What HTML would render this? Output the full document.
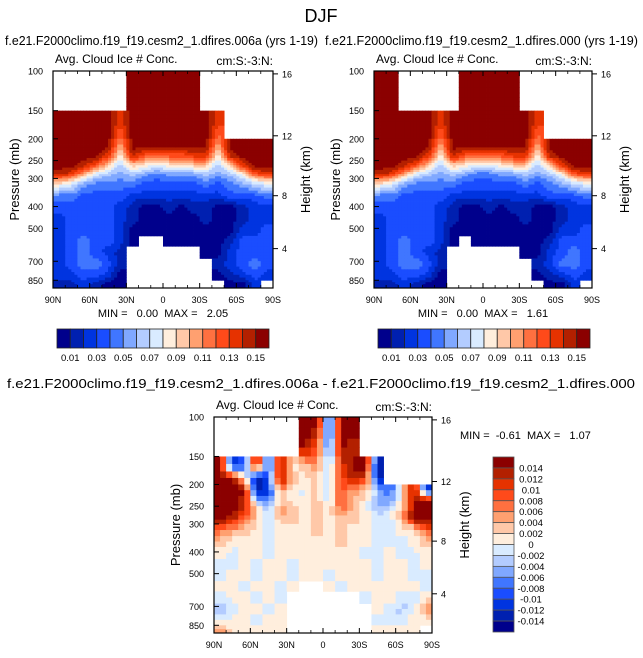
<!DOCTYPE html>
<html><head><meta charset="utf-8"><style>
html,body{margin:0;padding:0;background:#fff;}
svg{display:block;font-family:"Liberation Sans",Arial,sans-serif;}
</style></head><body>
<svg id="fig" width="643" height="658" viewBox="0 0 643 658" xmlns="http://www.w3.org/2000/svg">
<text x="321" y="22" font-size="18" text-anchor="middle">DJF</text>
<text x="5" y="45" font-size="13" textLength="313" lengthAdjust="spacingAndGlyphs">f.e21.F2000climo.f19_f19.cesm2_1.dfires.006a (yrs 1-19)</text>
<text x="325" y="45" font-size="13" textLength="313" lengthAdjust="spacingAndGlyphs">f.e21.F2000climo.f19_f19.cesm2_1.dfires.000 (yrs 1-19)</text>
<text x="7" y="388" font-size="13" textLength="628" lengthAdjust="spacingAndGlyphs">f.e21.F2000climo.f19_f19.cesm2_1.dfires.006a - f.e21.F2000climo.f19_f19.cesm2_1.dfires.000</text>
<g id="panels"></g>
</svg>
<script>
// ---- data ----
const latEdges = [90,80,70,60,50,40,30,20,10,0,-10,-20,-30,-40,-50,-60,-70,-80,-90];
const pEdges = [100,125,150,175,200,225,250,275,300,340,380,430,480,540,600,680,760,850,920];
const pTicks = [100,150,200,250,300,400,500,700,850];
const latTicks = [90,60,30,0,-30,-60,-90];
const latTickLabels = ["90N","60N","30N","0","30S","60S","90S"];
const heightTickP = [103,194,358,615];
const heightTickLabels = ["16","12","8","4"];
const seqLabels = ["0.01","0.03","0.05","0.07","0.09","0.11","0.13","0.15"];
const diffLabels = ["0.014","0.012","0.01","0.008","0.006","0.004","0.002","0","-0.002","-0.004","-0.006","-0.008","-0.01","-0.012","-0.014"];
const palette = ["#00008c","#0020b0","#0034e0","#1a4dff","#4076ff","#80a8ff","#b3ccff","#d9ebff","#ffeedd","#ffc8a8","#ffa070","#ff7040","#ff4a1a","#e63200","#b32000","#8b0000"];
// level index per cell (-1 = missing), rows = pressure bands, cols = latitude bands
const gridA = [
[-1,-1,-1,-1,-1,-1,15,15,15,15,15,15,-1,-1,-1,-1,-1,-1],
[-1,-1,-1,-1,-1,-1,15,15,15,15,15,15,-1,-1,-1,-1,-1,-1],
[15,15,15,15,15,13,15,15,15,15,15,15,15,13,-1,-1,-1,-1],
[15,15,15,15,15,12,15,15,15,15,15,15,15,12,-1,-1,-1,-1],
[15,15,15,15,15,10,15,15,15,15,15,15,15,10,15,15,15,15],
[15,15,15,15,13,8,14,12,12,12,12,13,13,8,14,15,15,15],
[15,15,14,12,9,6,9,8,7,8,8,9,9,6,9,13,15,15],
[14,13,10,7,6,5,6,5,4,5,5,5,6,5,6,8,12,13],
[8,7,5,4,4,4,4,3,3,3,3,3,4,3,4,5,6,7],
[4,4,3,3,3,3,2,2,2,2,2,2,2,2,3,3,3,4],
[3,3,3,3,3,2,1,0,0,1,0,1,1,0,0,1,2,2],
[2,3,3,3,3,2,1,0,0,0,0,0,1,0,0,1,2,2],
[2,3,3,3,3,2,0,0,0,0,0,0,0,0,0,2,2,3],
[2,3,4,3,3,2,0,-1,-1,0,0,0,0,0,1,3,3,3],
[2,3,4,3,2,1,-1,-1,-1,-1,-1,-1,0,0,2,3,3,3],
[2,3,4,4,3,1,-1,-1,-1,-1,-1,-1,-1,1,2,3,4,3],
[2,2,3,3,2,0,-1,-1,-1,-1,-1,-1,-1,0,1,2,3,2],
[1,1,2,1,0,0,-1,-1,-1,-1,-1,-1,-1,-1,0,0,2,-1]
];
const gridB = [
[15,15,-1,-1,-1,-1,-1,15,15,15,15,15,-1,-1,-1,-1,-1,-1],
[15,15,-1,-1,-1,-1,-1,15,15,15,15,15,-1,-1,-1,-1,-1,-1],
[15,15,15,15,15,13,15,15,15,15,15,15,15,13,-1,-1,-1,-1],
[15,15,15,15,15,12,15,15,15,15,15,15,15,12,-1,-1,-1,-1],
[15,15,15,15,15,10,15,15,15,15,15,15,15,10,15,15,15,15],
[15,15,15,15,13,8,14,12,11,11,12,13,13,8,14,15,15,15],
[15,15,14,12,9,6,9,8,7,7,8,9,9,6,9,13,15,15],
[14,13,10,7,6,5,6,5,4,4,5,5,6,5,6,8,12,13],
[8,7,5,4,4,4,4,3,3,3,3,3,4,3,4,5,6,7],
[4,4,3,3,3,3,2,2,2,2,2,2,2,2,3,3,3,4],
[3,3,3,3,3,2,1,0,0,1,0,1,1,0,0,1,2,2],
[2,3,3,3,3,2,1,0,0,0,0,0,1,0,0,1,2,2],
[2,3,3,3,3,2,0,0,0,0,0,0,0,0,0,2,2,3],
[2,3,4,3,3,2,0,-1,0,0,0,0,0,0,1,3,3,3],
[2,3,4,3,2,1,-1,-1,-1,-1,-1,-1,0,0,2,3,4,3],
[2,3,4,4,3,1,-1,-1,-1,-1,-1,-1,-1,1,2,4,4,3],
[2,2,3,3,2,0,-1,-1,-1,-1,-1,-1,-1,0,1,2,3,2],
[1,1,2,1,0,0,-1,-1,-1,-1,-1,-1,-1,-1,0,0,2,-1]
];
const gridDiff = [
[-1,-1,-1,-1,-1,-1,-1,15,15,1,15,15,-1,-1,-1,-1,-1,-1],
[-1,-1,-1,-1,-1,-1,-1,15,12,3,15,14,-1,-1,-1,-1,-1,-1],
[15,1,3,15,2,15,8,9,10,6,13,15,15,1,-1,-1,-1,-1],
[15,15,8,1,3,15,9,8,9,6,12,14,13,1,-1,-1,-1,-1],
[15,15,15,1,2,10,8,7,9,6,12,10,9,6,3,8,15,2],
[15,15,14,6,4,9,8,8,9,7,12,9,8,5,5,8,15,15],
[15,15,13,9,6,10,9,8,9,8,11,9,8,6,7,9,15,15],
[15,14,11,9,7,9,9,8,9,8,9,9,8,7,7,9,15,15],
[11,10,9,8,7,8,8,8,9,8,9,8,8,7,7,8,8,12],
[9,8,8,8,7,8,8,8,8,8,9,8,8,7,7,7,8,9],
[8,7,8,8,7,8,8,8,8,8,8,8,7,7,8,7,7,8],
[7,7,8,7,8,8,7,8,8,8,8,8,8,7,8,8,7,8],
[7,8,8,7,8,8,7,8,8,7,8,8,8,7,8,8,7,7],
[8,8,7,8,8,7,8,-1,-1,8,7,8,8,8,8,8,8,7],
[7,8,8,7,8,7,-1,-1,-1,-1,-1,-1,7,8,8,7,7,8],
[5,7,8,8,7,8,-1,-1,-1,-1,-1,-1,-1,8,7,6,7,10],
[7,8,8,7,8,8,-1,-1,-1,-1,-1,-1,-1,7,7,7,8,8],
[10,8,8,8,8,8,-1,-1,-1,-1,-1,-1,-1,8,8,8,8,-1]
];

const NS = "http://www.w3.org/2000/svg";
function mk(parent, tag, attrs){const e=document.createElementNS(NS,tag);for(const k in attrs)e.setAttribute(k,attrs[k]);parent.appendChild(e);return e;}

// bilinear sample of the grid (render-time smoothing), ignoring missing cells
function sample(grid, fr, fc){
  const R=grid.length, C=grid[0].length;
  const r0=Math.floor(fr), c0=Math.floor(fc);
  const tr=fr-r0, tc=fc-c0;
  let s=0, ws=0;
  for(const [dr,wr] of [[0,1-tr],[1,tr]]){
    for(const [dc,wc] of [[0,1-tc],[1,tc]]){
      const rr=Math.min(R-1,Math.max(0,r0+dr)), cc=Math.min(C-1,Math.max(0,c0+dc));
      const v=grid[rr][cc]; const wt=wr*wc;
      if(v>=0 && wt>0){s+=v*wt; ws+=wt;}
    }
  }
  return ws>0 ? s/ws : -1;
}

function drawPanel(grid, x0, y0, w, h, opts){
  const root = document.getElementById('panels');
  const g = mk(root,'g',{});
  
  
  const pTop = 100, pBot = 920;
  const xS = lat => x0 + (90 - lat) / 180 * w;
  const yS = p => y0 + Math.log(p / pTop) / Math.log(pBot / pTop) * h;
  const n = opts.sub;
  for(let r=0;r<grid.length;r++){
    for(let c=0;c<grid[r].length;c++){
      if(grid[r][c]<0) continue;
      const xa = xS(latEdges[c]), xb = xS(latEdges[c+1]);
      const ya = yS(pEdges[r]), yb = yS(pEdges[r+1]);
      const sw=(xb-xa)/n, sh=(yb-ya)/n;
      for(let i=0;i<n;i++){
        for(let j=0;j<n;j++){
          const fr=r+(i+0.5)/n-0.5, fc=c+(j+0.5)/n-0.5;
          const v=Math.round(sample(grid,fr,fc));
          if(v<0) continue;
          const rc = mk(g,'rect',{x:(xa+j*sw).toFixed(2),y:(ya+i*sh).toFixed(2),width:(sw+0.4).toFixed(2),height:(sh+0.4).toFixed(2),fill:palette[v]});
          
          
        }
      }
    }
  }
  const fr = mk(g,'rect',{x:x0,y:y0,width:w,height:h,fill:'none',stroke:'#000','stroke-width':1.2});
  
  
  pTicks.forEach(p=>{
    const y=yS(p);
    mk(g,'line',{x1:x0,x2:x0+5,y1:y,y2:y,stroke:'#000','stroke-width':1});
    const t=mk(g,'text',{x:x0-10,y:y+3.5,'font-size':9,'text-anchor':'end'});
    t.textContent=p;
    
    
  });
  heightTickP.forEach((p,i)=>{
    const y=yS(p);
    mk(g,'line',{x1:x0+w,x2:x0+w+5,y1:y,y2:y,stroke:'#000','stroke-width':1});
    const t=mk(g,'text',{x:x0+w+9,y:y+3.5,'font-size':9});
    t.textContent=heightTickLabels[i];
    
    
  });
  latTicks.forEach((lat,i)=>{
    const x=xS(lat);
    mk(g,'line',{x1:x,x2:x,y1:y0+h,y2:y0+h-5,stroke:'#000','stroke-width':1});
    mk(g,'line',{x1:x,x2:x,y1:y0,y2:y0+5,stroke:'#000','stroke-width':1});
    const t=mk(g,'text',{x:x,y:y0+h+15,'font-size':9,'text-anchor':'middle'});
    t.textContent=latTickLabels[i];
    
    
  });
  for(let lat=80;lat>-90;lat-=10){
    if(lat%30===0) continue;
    const x=xS(lat);
    mk(g,'line',{x1:x,x2:x,y1:y0+h,y2:y0+h-3,stroke:'#000','stroke-width':0.8});
    mk(g,'line',{x1:x,x2:x,y1:y0,y2:y0+3,stroke:'#000','stroke-width':0.8});
  }
  const a=mk(g,'text',{x:x0+2,y:y0-8,'font-size':12});
  a.textContent='Avg. Cloud Ice # Conc.';
  
  
  const u=mk(g,'text',{x:x0+w,y:y0-6,'font-size':12,'text-anchor':'end'});
  u.textContent='cm:S:-3:N:';
  
  
  const yl=mk(g,'text',{x:0,y:0,'font-size':13,'text-anchor':'middle',transform:`translate(${x0-34},${y0+h/2}) rotate(-90)`});
  yl.textContent='Pressure (mb)';
  
  
  const hl=mk(g,'text',{x:0,y:0,'font-size':13,'text-anchor':'middle',transform:`translate(${x0+w+37},${y0+h/2}) rotate(-90)`});
  hl.textContent='Height (km)';
  
  
  if(opts.minmax){
    const m=mk(g,'text',{x:opts.mmx,y:opts.mmy,'font-size':11,'text-anchor':opts.mma});
    m.setAttribute('style','white-space:pre');
    m.textContent=opts.minmax;
    
    
  }
}

function hColorbar(x0,y0,w,h,name){
  const root=document.getElementById('panels');
  const g=mk(root,'g',{});
  
  
  const bw=w/palette.length;
  palette.forEach((c,i)=>{
    const r=mk(g,'rect',{x:x0+i*bw,y:y0,width:bw,height:h,fill:c,stroke:'#222','stroke-width':0.8});
    
    
  });
  seqLabels.forEach((l,i)=>{
    const t=mk(g,'text',{x:x0+(2*i+1)*bw,y:y0+h+13,'font-size':9.5,'text-anchor':'middle'});
    t.textContent=l;
    
    
  });
}
function vColorbar(x0,y0,w,h){
  const root=document.getElementById('panels');
  const g=mk(root,'g',{});
  
  
  const bh=h/palette.length;
  for(let i=0;i<palette.length;i++){
    const r=mk(g,'rect',{x:x0,y:y0+i*bh,width:w,height:bh,fill:palette[palette.length-1-i],stroke:'#555','stroke-width':0.8});
    
    
  }
  diffLabels.forEach((l,i)=>{
    const t=mk(g,'text',{x:x0+w+17,y:y0+(i+1)*bh+3.5,'font-size':9.5,'text-anchor':'middle'});
    t.textContent=l;
    
    
  });
}

drawPanel(gridA,53,71,220,217,{name:'left-panel',sub:4,minmax:'MIN =   0.00  MAX =   2.05',mmx:163,mmy:317,mma:'middle'});
drawPanel(gridB,374,71,218,217,{name:'right-panel',sub:4,minmax:'MIN =   0.00  MAX =   1.61',mmx:483,mmy:317,mma:'middle'});
drawPanel(gridDiff,214,417,218,216,{name:'diff-panel',sub:2,minmax:'MIN =  -0.61  MAX =   1.07',mmx:460,mmy:439,mma:'start'});
hColorbar(57,329,212,19,'left-colorbar');
hColorbar(378,329,212,19,'right-colorbar');
vColorbar(493,457,21,175);
</script>
</body></html>
